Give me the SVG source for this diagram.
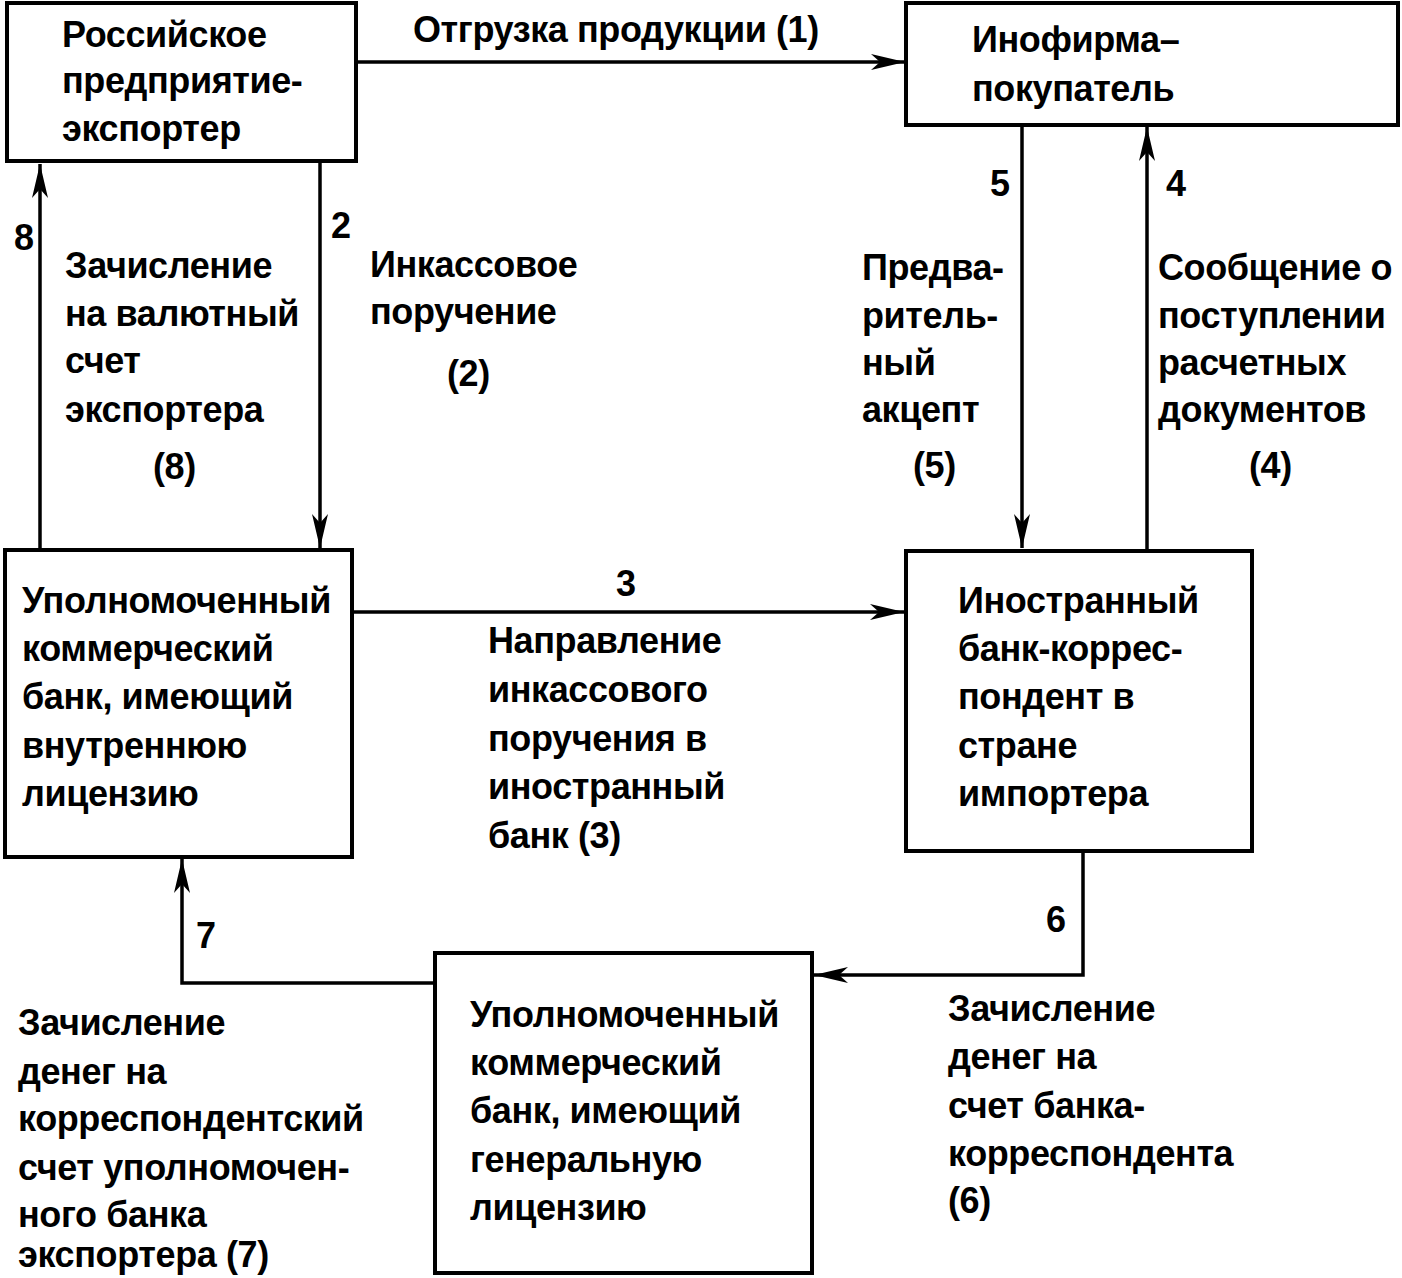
<svg xmlns="http://www.w3.org/2000/svg" width="1402" height="1278" viewBox="0 0 1402 1278">
<style>
.box{fill:#fff;stroke:#000;stroke-width:4}
.ln{fill:none;stroke:#000;stroke-width:3.5}
text{font-family:"Liberation Sans","Arial",sans-serif;font-weight:bold;font-size:36px;letter-spacing:-0.4px;fill:#000}
</style>
<defs>
<marker id="ah" markerUnits="userSpaceOnUse" markerWidth="36" markerHeight="18" refX="34" refY="9" orient="auto">
<path d="M0,1 L34,9 L0,17 L9,9 z" fill="#000"/>
</marker>
</defs>
<rect width="1402" height="1278" fill="#fff"/>
<g id="connectors">
<line class="ln" x1="357" y1="62" x2="905" y2="62" marker-end="url(#ah)"/>
<line class="ln" x1="320" y1="162" x2="320" y2="548" marker-end="url(#ah)"/>
<line class="ln" x1="40" y1="550" x2="40" y2="164" marker-end="url(#ah)"/>
<line class="ln" x1="1022" y1="125" x2="1022" y2="548" marker-end="url(#ah)"/>
<line class="ln" x1="1147" y1="550" x2="1147" y2="127" marker-end="url(#ah)"/>
<line class="ln" x1="352" y1="612" x2="904" y2="612" marker-end="url(#ah)"/>
<polyline class="ln" points="1083,852 1083,975 814,975" marker-end="url(#ah)"/>
<polyline class="ln" points="435,983 182,983 182,859" marker-end="url(#ah)"/>
</g>
<g id="node-exporter">
<rect class="box" x="7" y="3" width="349" height="158"/>
<text x="62" y="47">Российское</text>
<text x="62" y="93">предприятие-</text>
<text x="62" y="141">экспортер</text>
</g>
<g id="node-buyer">
<rect class="box" x="906" y="3" width="492" height="122"/>
<text x="972" y="52">Инофирма–</text>
<text x="972" y="101">покупатель</text>
</g>
<g id="node-bank-internal">
<rect class="box" x="5" y="550" width="347" height="307"/>
<text x="22" y="613">Уполномоченный</text>
<text x="22" y="661">коммерческий</text>
<text x="22" y="709">банк, имеющий</text>
<text x="22" y="758">внутреннюю</text>
<text x="22" y="806">лицензию</text>
</g>
<g id="node-foreign-bank">
<rect class="box" x="906" y="551" width="346" height="300"/>
<text x="958" y="613">Иностранный</text>
<text x="958" y="661">банк-коррес-</text>
<text x="958" y="709">пондент в</text>
<text x="958" y="758">стране</text>
<text x="958" y="806">импортера</text>
</g>
<g id="node-bank-general">
<rect class="box" x="435" y="953" width="377" height="320"/>
<text x="470" y="1027">Уполномоченный</text>
<text x="470" y="1075">коммерческий</text>
<text x="470" y="1123">банк, имеющий</text>
<text x="470" y="1172">генеральную</text>
<text x="470" y="1220">лицензию</text>
</g>
<g id="labels">
<text x="413" y="42">Отгрузка продукции (1)</text>
<text x="14" y="250">8</text>
<text x="331" y="238">2</text>
<text x="990" y="196">5</text>
<text x="1166" y="196">4</text>
<text x="65" y="278">Зачисление</text>
<text x="65" y="326">на валютный</text>
<text x="65" y="373">счет</text>
<text x="65" y="422">экспортера</text>
<text x="153" y="479">(8)</text>
<text x="370" y="277">Инкассовое</text>
<text x="370" y="324">поручение</text>
<text x="447" y="386">(2)</text>
<text x="862" y="280">Предва-</text>
<text x="862" y="328">ритель-</text>
<text x="862" y="375">ный</text>
<text x="862" y="422">акцепт</text>
<text x="913" y="478">(5)</text>
<text x="1158" y="280">Сообщение о</text>
<text x="1158" y="328">поступлении</text>
<text x="1158" y="375">расчетных</text>
<text x="1158" y="422">документов</text>
<text x="1249" y="478">(4)</text>
<text x="616" y="596">3</text>
<text x="488" y="653">Направление</text>
<text x="488" y="702">инкассового</text>
<text x="488" y="751">поручения в</text>
<text x="488" y="799">иностранный</text>
<text x="488" y="848">банк (3)</text>
<text x="196" y="948">7</text>
<text x="1046" y="932">6</text>
<text x="18" y="1035">Зачисление</text>
<text x="18" y="1084">денег на</text>
<text x="18" y="1131">корреспондентский</text>
<text x="18" y="1180">счет уполномочен-</text>
<text x="18" y="1227">ного банка</text>
<text x="18" y="1267">экспортера (7)</text>
<text x="948" y="1021">Зачисление</text>
<text x="948" y="1069">денег на</text>
<text x="948" y="1118">счет банка-</text>
<text x="948" y="1166">корреспондента</text>
<text x="948" y="1213">(6)</text>
</g>
</svg>
